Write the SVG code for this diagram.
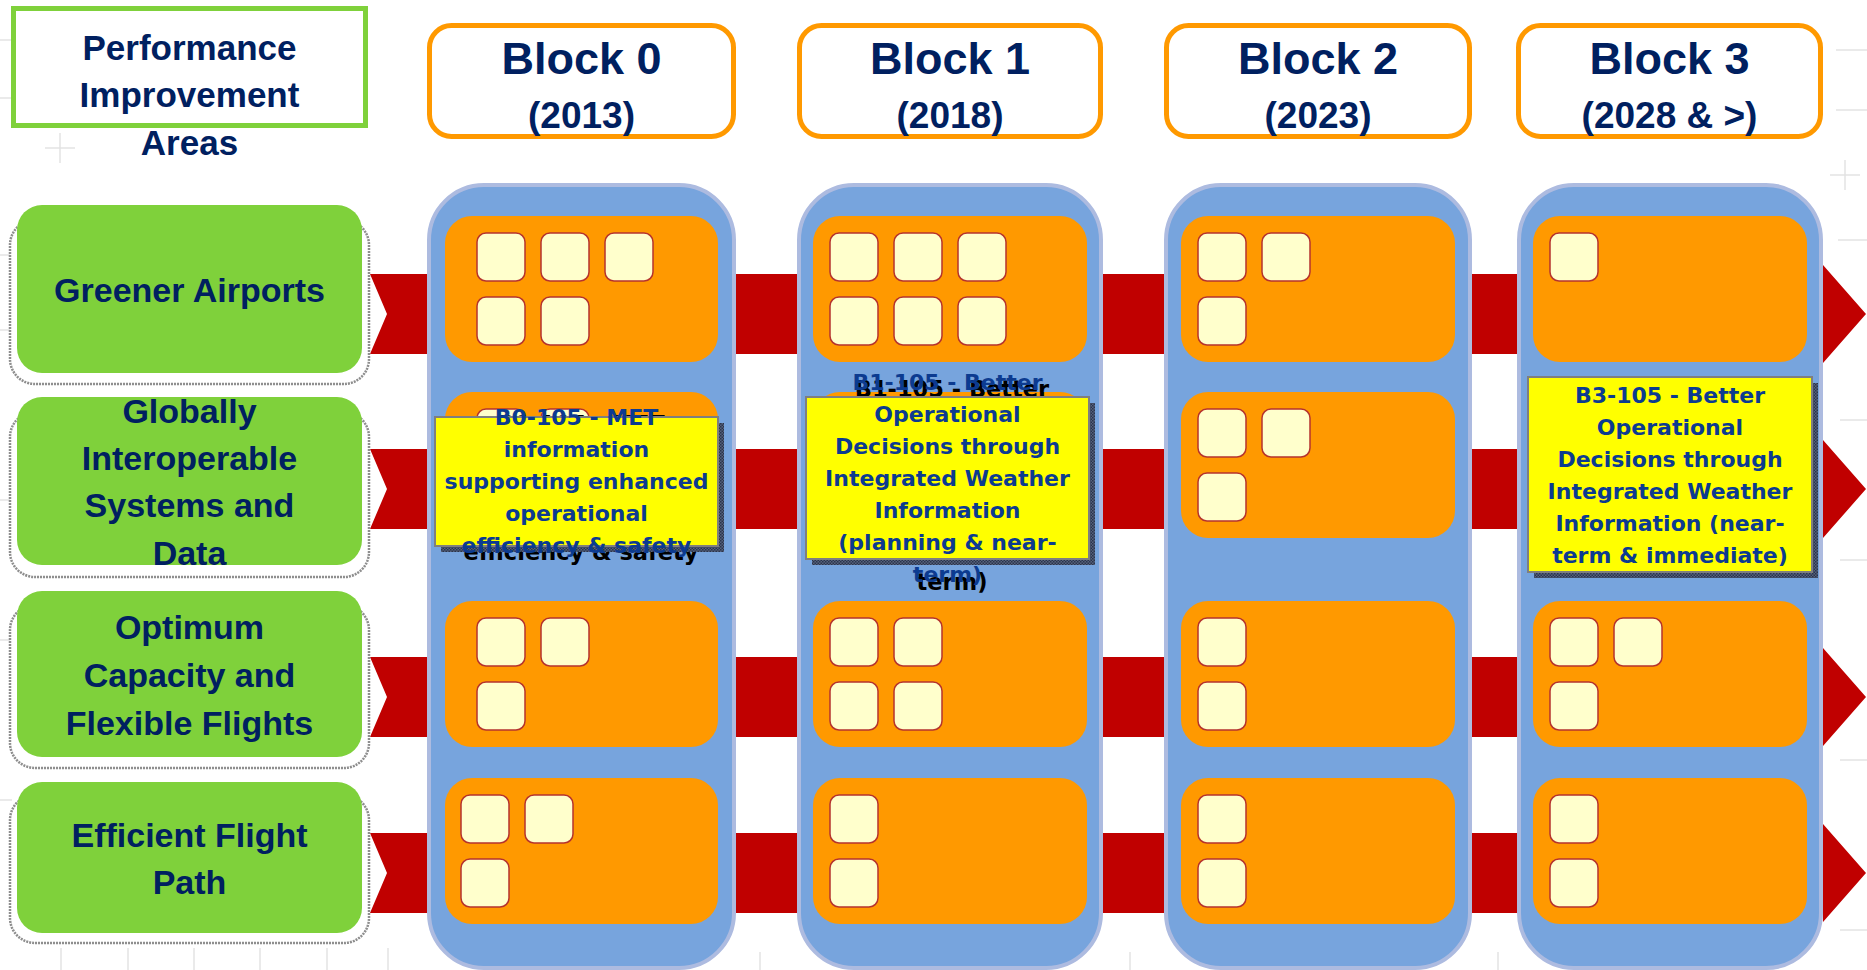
<svg xmlns="http://www.w3.org/2000/svg" xmlns:xlink="http://www.w3.org/1999/xlink" width="1867" height="970" viewBox="0 0 1867 970">
  <style>
    .t { font-family: "Liberation Sans", Arial, sans-serif; font-weight: bold; fill: #002060; text-anchor: middle; }
    .lbl { font-size: 34px; }
    .hdr { fill: #ffffff; stroke: #ff9900; stroke-width: 5; }
    .col { fill: #77a4dd; stroke: #adbbe0; stroke-width: 4; }
    .pan { fill: #ff9900; }
    .sq { fill: #ffffcc; stroke: #b5332e; stroke-width: 1.5; }
    .green { fill: #7fd13b; }
    .frame { fill: #ffffff; stroke: #8e8e8e; stroke-width: 2.5; stroke-dasharray: 2 1; }
    .bar { fill: #c00000; }
    .call { fill: #ffff00; stroke: #7f7f7f; stroke-width: 2; }
    .csh { fill: url(#dither); }
    .ct { font-family: "DejaVu Sans", Verdana, sans-serif; font-weight: bold; font-size: 22px; fill: #0c3b90; text-anchor: middle; }
    .cb { font-family: "DejaVu Sans", Verdana, sans-serif; font-weight: bold; font-size: 22.5px; fill: #000000; text-anchor: middle; }
    .mark { stroke: #e3e3e3; stroke-width: 1.5; fill: none; }
  </style>
  <defs>
    <pattern id="dither" width="3" height="3" patternUnits="userSpaceOnUse">
      <rect width="3" height="3" fill="#55627e"/>
      <rect width="1.5" height="1.5" fill="#2b344a"/>
      <rect x="1.5" y="1.5" width="1.5" height="1.5" fill="#2b344a"/>
    </pattern>
    <rect id="sq" class="sq" width="48" height="48" rx="9"/>
  </defs>

  <rect width="1867" height="970" fill="#ffffff"/>

  <!-- faint ruler marks on the page -->
  <g id="marks" class="mark">
    <path d="M45 148 H75 M60 133 V163"/>
    <path d="M0 40 H14 M0 98 H12 M0 255 H14 M0 330 H12 M0 500 H12 M0 640 H12 M0 800 H12"/>
    <path d="M1830 175 H1860 M1845 160 V190"/>
    <path d="M1836 50 H1867 M1836 110 H1867 M1838 240 H1867 M1840 420 H1867 M1840 560 H1867 M1840 760 H1867 M1840 930 H1867"/>
    <path d="M61 948 V970 M128 948 V970 M194 948 V970 M260 948 V970 M327 948 V970 M388 948 V970 M760 952 V970 M1130 952 V970 M1498 952 V970"/>
  </g>

  <!-- title -->
  <g id="title">
    <rect x="13.5" y="8.5" width="352" height="117" fill="#ffffff" stroke="#7fd13b" stroke-width="5"/>
    <text class="t" font-size="35" x="189.5" y="60">Performance</text>
    <text class="t" font-size="35" x="189.5" y="107">Improvement</text>
    <text class="t" font-size="35" x="189.5" y="155">Areas</text>
  </g>

  <!-- block headers -->
  <g id="hdr0">
    <rect class="hdr" x="429.5" y="25.5" width="304" height="111" rx="22"/>
    <text class="t" font-size="45" x="581.5" y="74">Block 0</text>
    <text class="t" font-size="37" x="581.5" y="128">(2013)</text>
  </g>
  <g id="hdr1">
    <rect class="hdr" x="799.5" y="25.5" width="301" height="111" rx="22"/>
    <text class="t" font-size="45" x="950" y="74">Block 1</text>
    <text class="t" font-size="37" x="950" y="128">(2018)</text>
  </g>
  <g id="hdr2">
    <rect class="hdr" x="1166.5" y="25.5" width="303" height="111" rx="22"/>
    <text class="t" font-size="45" x="1318" y="74">Block 2</text>
    <text class="t" font-size="37" x="1318" y="128">(2023)</text>
  </g>
  <g id="hdr3">
    <rect class="hdr" x="1518.5" y="25.5" width="302" height="111" rx="22"/>
    <text class="t" font-size="45" x="1669.5" y="74">Block 3</text>
    <text class="t" font-size="37" x="1669.5" y="128">(2028 &amp; &gt;)</text>
  </g>

  <!-- red arrows running through each performance area -->
  <g id="connectors">
    <path class="bar" d="M370 274 H1823 V265 L1866 314 L1823 363 V354 H370 L387 314 Z"/>
    <path class="bar" d="M370 449 H1823 V440 L1866 489 L1823 538 V529 H370 L387 489 Z"/>
    <path class="bar" d="M370 657 H1823 V648 L1866 697 L1823 746 V737 H370 L387 697 Z"/>
    <path class="bar" d="M370 833 H1823 V824 L1866 873 L1823 922 V913 H370 L387 873 Z"/>
  </g>

  <!-- performance improvement areas -->
  <g id="area-greener">
    <rect class="frame" x="10" y="220" width="359" height="164" rx="25"/>
    <rect class="green" x="17" y="205" width="345" height="168" rx="25"/>
    <text class="t lbl" x="189.5" y="302">Greener Airports</text>
  </g>
  <g id="area-interop">
    <rect class="frame" x="10" y="412" width="359" height="165" rx="25"/>
    <rect class="green" x="17" y="397" width="345" height="168" rx="25"/>
    <text class="t lbl" x="189.5" y="423">Globally</text>
    <text class="t lbl" x="189.5" y="470">Interoperable</text>
    <text class="t lbl" x="189.5" y="517">Systems and</text>
    <text class="t lbl" x="189.5" y="565">Data</text>
  </g>
  <g id="area-capacity">
    <rect class="frame" x="10" y="605" width="359" height="163" rx="25"/>
    <rect class="green" x="17" y="591" width="345" height="166" rx="25"/>
    <text class="t lbl" x="189.5" y="639">Optimum</text>
    <text class="t lbl" x="189.5" y="687">Capacity and</text>
    <text class="t lbl" x="189.5" y="735">Flexible Flights</text>
  </g>
  <g id="area-flightpath">
    <rect class="frame" x="10" y="795" width="359" height="148" rx="25"/>
    <rect class="green" x="17" y="782" width="345" height="151" rx="25"/>
    <text class="t lbl" x="189.5" y="847">Efficient Flight</text>
    <text class="t lbl" x="189.5" y="894">Path</text>
  </g>

  <!-- Block 0 column -->
  <g id="block0">
    <rect class="col" x="429" y="185" width="305" height="783" rx="55"/>
    <rect class="pan" x="445" y="216" width="273" height="146" rx="27"/>
    <use href="#sq" x="477" y="233"/><use href="#sq" x="541" y="233"/><use href="#sq" x="605" y="233"/>
    <use href="#sq" x="477" y="297"/><use href="#sq" x="541" y="297"/>
    <rect class="pan" x="445" y="392" width="273" height="146" rx="27"/>
    <use href="#sq" x="477" y="409"/><use href="#sq" x="541" y="409"/>
    <rect class="pan" x="445" y="601" width="273" height="146" rx="27"/>
    <use href="#sq" x="477" y="618"/><use href="#sq" x="541" y="618"/>
    <use href="#sq" x="477" y="682"/>
    <rect class="pan" x="445" y="778" width="273" height="146" rx="27"/>
    <use href="#sq" x="461" y="795"/><use href="#sq" x="525" y="795"/>
    <use href="#sq" x="461" y="859"/>
  </g>
  <g id="b0-105">
    <g class="cb">
      <text x="581" y="432">B0-105 - MET</text>
      <text x="581" y="464">information</text>
      <text x="581" y="496">supporting enhanced</text>
      <text x="581" y="528">operational</text>
      <text x="581" y="560">efficiency &amp; safety</text>
    </g>
    <rect class="csh" x="441" y="423" width="283" height="129"/>
    <rect class="call" x="435" y="417" width="283" height="129"/>
    <g class="ct">
      <text x="576.5" y="425">B0-105 - MET</text>
      <text x="576.5" y="457">information</text>
      <text x="576.5" y="489">supporting enhanced</text>
      <text x="576.5" y="521">operational</text>
      <text x="576.5" y="553">efficiency &amp; safety</text>
    </g>
  </g>

  <!-- Block 1 column -->
  <g id="block1">
    <rect class="col" x="799" y="185" width="302" height="783" rx="55"/>
    <rect class="pan" x="813" y="216" width="274" height="146" rx="27"/>
    <use href="#sq" x="830" y="233"/><use href="#sq" x="894" y="233"/><use href="#sq" x="958" y="233"/>
    <use href="#sq" x="830" y="297"/><use href="#sq" x="894" y="297"/><use href="#sq" x="958" y="297"/>
    <rect class="pan" x="813" y="392" width="274" height="146" rx="27"/>
    <rect class="pan" x="813" y="601" width="274" height="146" rx="27"/>
    <use href="#sq" x="830" y="618"/><use href="#sq" x="894" y="618"/>
    <use href="#sq" x="830" y="682"/><use href="#sq" x="894" y="682"/>
    <rect class="pan" x="813" y="778" width="274" height="146" rx="27"/>
    <use href="#sq" x="830" y="795"/>
    <use href="#sq" x="830" y="859"/>
  </g>
  <g id="b1-105">
    <g class="cb">
      <text x="952" y="397">B1-105 - Better</text>
      <text x="952" y="429">Operational</text>
      <text x="952" y="461">Decisions through</text>
      <text x="952" y="493">Integrated Weather</text>
      <text x="952" y="525">Information</text>
      <text x="952" y="558">(planning &amp; near-</text>
      <text x="952" y="590">term)</text>
    </g>
    <rect class="csh" x="812" y="403" width="283" height="162"/>
    <rect class="call" x="806" y="397" width="283" height="162"/>
    <g class="ct">
      <text x="947.5" y="390">B1-105 - Better</text>
      <text x="947.5" y="422">Operational</text>
      <text x="947.5" y="454">Decisions through</text>
      <text x="947.5" y="486">Integrated Weather</text>
      <text x="947.5" y="518">Information</text>
      <text x="947.5" y="550">(planning &amp; near-</text>
      <text x="947.5" y="582">term)</text>
    </g>
  </g>

  <!-- Block 2 column -->
  <g id="block2">
    <rect class="col" x="1166" y="185" width="304" height="783" rx="55"/>
    <rect class="pan" x="1181" y="216" width="274" height="146" rx="27"/>
    <use href="#sq" x="1198" y="233"/><use href="#sq" x="1262" y="233"/>
    <use href="#sq" x="1198" y="297"/>
    <rect class="pan" x="1181" y="392" width="274" height="146" rx="27"/>
    <use href="#sq" x="1198" y="409"/><use href="#sq" x="1262" y="409"/>
    <use href="#sq" x="1198" y="473"/>
    <rect class="pan" x="1181" y="601" width="274" height="146" rx="27"/>
    <use href="#sq" x="1198" y="618"/>
    <use href="#sq" x="1198" y="682"/>
    <rect class="pan" x="1181" y="778" width="274" height="146" rx="27"/>
    <use href="#sq" x="1198" y="795"/>
    <use href="#sq" x="1198" y="859"/>
  </g>

  <!-- Block 3 column -->
  <g id="block3">
    <rect class="col" x="1519" y="185" width="302" height="783" rx="55"/>
    <rect class="pan" x="1533" y="216" width="274" height="146" rx="27"/>
    <use href="#sq" x="1550" y="233"/>
    <rect class="pan" x="1533" y="601" width="274" height="146" rx="27"/>
    <use href="#sq" x="1550" y="618"/><use href="#sq" x="1614" y="618"/>
    <use href="#sq" x="1550" y="682"/>
    <rect class="pan" x="1533" y="778" width="274" height="146" rx="27"/>
    <use href="#sq" x="1550" y="795"/>
    <use href="#sq" x="1550" y="859"/>
  </g>
  <g id="b3-105">
    <rect class="csh" x="1534" y="383" width="284" height="195"/>
    <rect class="call" x="1528" y="377" width="284" height="195"/>
    <g class="ct">
      <text x="1670" y="403">B3-105 - Better</text>
      <text x="1670" y="435">Operational</text>
      <text x="1670" y="467">Decisions through</text>
      <text x="1670" y="499">Integrated Weather</text>
      <text x="1670" y="531">Information (near-</text>
      <text x="1670" y="563">term &amp; immediate)</text>
    </g>
  </g>
</svg>
